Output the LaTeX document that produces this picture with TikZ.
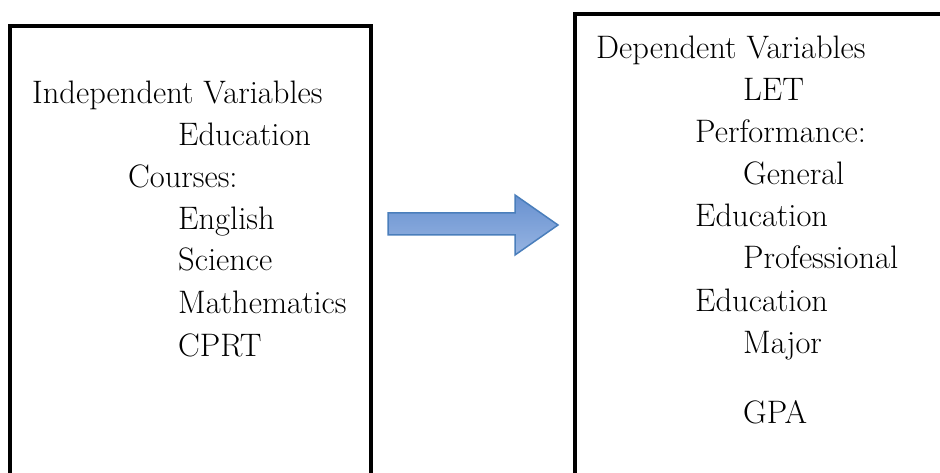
\documentclass[tikz,border=0pt]{standalone}
\begin{document}
\begin{tikzpicture}[x=1pt,y=-1pt,
  lbl/.style={anchor=base west,inner sep=0pt,font=\fontsize{32.5}{39}\selectfont},
  boxline/.style={draw=black,line width=4pt},
  bigarrow/.style={draw={rgb,255:red,74;green,126;blue,187},line width=1.5pt,
    top color={rgb,255:red,104;green,145;blue,208},bottom color={rgb,255:red,150;green,180;blue,226},line join=miter}]
\useasboundingbox (0,0) rectangle (940,473);
\clip (0,0) rectangle (940,473);
% boxes
\draw[boxline] (10,490) -- (10,26.5) -- (370.5,26.5) -- (370.5,490);
\draw[boxline] (575,490) -- (575,14) -- (960,14);
% arrow
\draw[bigarrow] (388,213) -- (515,213) -- (515,195) -- (558,225) -- (515,255) -- (515,235) -- (388,235) -- cycle;
% left text
\node[lbl] (iv) at (32,104) {Independent Variables};
\node[lbl] (ed) at (178,146) {Education};
\node[lbl] (co) at (128,188) {Courses:};
\node[lbl] (en) at (178,230) {English};
\node[lbl] (sc) at (178,271) {Science};
\node[lbl] (ma) at (178,313) {Mathematics};
\node[lbl] (cp) at (178,356) {CPRT};
% right text
\node[lbl] (dv) at (596,59) {Dependent Variables};
\node[lbl] (le) at (743,101) {LET};
\node[lbl] (pe) at (695,143) {Performance:};
\node[lbl] (ge) at (743,185) {General};
\node[lbl] (e1) at (695,227) {Education};
\node[lbl] (pr) at (743,269) {Professional};
\node[lbl] (e2) at (695,311) {Education};
\node[lbl] (mj) at (743,353) {Major};
\node[lbl] (gp) at (743,423) {GPA};
\end{tikzpicture}
\end{document}
